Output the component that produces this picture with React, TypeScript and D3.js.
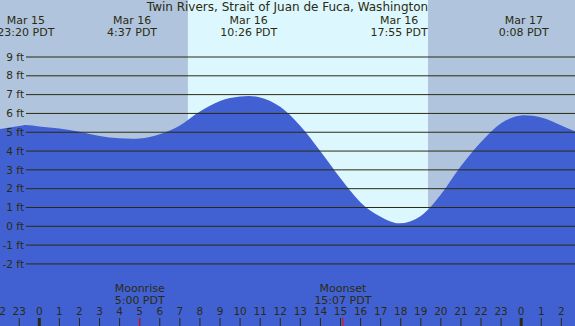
import React from 'react';
import * as d3 from 'd3';

// hours relative to Mar 16 00:00 PDT, tide level in feet
const tideHours = [-2, -1, -0.67, 0, 1, 2, 3, 4, 4.62, 5, 6, 7, 8, 9, 10, 10.43, 11, 12, 13, 14, 15, 16, 17, 17.92, 19, 20, 21, 22, 23, 24, 24.13, 25, 26, 27];
const tideLevels = [5.16, 5.33, 5.39, 5.31, 5.2, 5.02, 4.8, 4.68, 4.66, 4.67, 4.9, 5.36, 6.1, 6.66, 6.9, 6.93, 6.85, 6.35, 5.33, 3.99, 2.55, 1.27, 0.51, 0.16, 0.55, 1.69, 3.2, 4.48, 5.48, 5.89, 5.9, 5.79, 5.36, 4.9];

const eventHours = [-0.67, 4.62, 10.43, 17.92, 24.13];
const eventDates = ['Mar 15', 'Mar 16', 'Mar 16', 'Mar 16', 'Mar 17'];
const eventTimes = ['23:20 PDT', '4:37 PDT', '10:26 PDT', '17:55 PDT', '0:08 PDT'];

const sunrise = 7.4;
const sunset = 19.36;

const moonHours = [5, 15.12];
const moonNames = ['Moonrise', 'Moonset'];
const moonTimes = ['5:00 PDT', '15:07 PDT'];

const feetTicks = [9, 8, 7, 6, 5, 4, 3, 2, 1, 0, -1, -2];
const hourTicks = d3.range(-2, 27);

const title = 'Twin Rivers, Strait of Juan de Fuca, Washington';

const width = 575;
const height = 326;
const ink = '#2b2b10';

const App: React.FC = () => {
  const x = d3.scaleLinear().domain([0, 24]).range([39.3, 521.2]);
  const y = d3.scaleLinear().domain([0, 9]).range([226.3, 57]);

  const data = tideHours.map((h, i) => ({ h, v: tideLevels[i] }));
  const area = d3
    .area<{ h: number; v: number }>()
    .x((d) => x(d.h))
    .y0(height)
    .y1((d) => y(d.v))
    .curve(d3.curveMonotoneX);

  const font = { fontFamily: 'DejaVu Sans', fontSize: 11, fill: ink };

  return (
    <svg
      width={width}
      height={height}
      style={{ position: 'absolute', left: 0, top: 0, display: 'block' }}
    >
      <rect x={0} y={0} width={width} height={height} fill='#b0c4de' />
      <rect x={x(sunrise)} y={0} width={x(sunset) - x(sunrise)} height={height} fill='#ddf7ff' />
      <path d={area(data) || ''} fill='#4161d3' />

      {feetTicks.map((f) => (
        <g key={f}>
          <line x1={26} x2={width} y1={y(f)} y2={y(f)} stroke={ink} strokeWidth={1} />
          <text x={24} y={y(f)} dy='0.35em' textAnchor='end' {...font} fontSize={10.5}>
            {f} ft
          </text>
        </g>
      ))}

      <text x={287.5} y={11} textAnchor='middle' {...font} fontSize={12}>
        {title}
      </text>

      {eventHours.map((h, i) => (
        <g key={i}>
          <text x={x(h)} y={24} textAnchor='middle' {...font}>
            {eventDates[i]}
          </text>
          <text x={x(h)} y={36} textAnchor='middle' {...font}>
            {eventTimes[i]}
          </text>
        </g>
      ))}

      {hourTicks.map((h) => {
        const label = ((h % 24) + 24) % 24;
        return (
          <g key={h}>
            <line
              x1={x(h)}
              x2={x(h)}
              y1={318}
              y2={height}
              stroke={ink}
              strokeWidth={label === 0 ? 3 : 1}
            />
            <text x={x(h)} y={315} textAnchor='middle' {...font} fontSize={10.5}>
              {label}
            </text>
          </g>
        );
      })}

      {moonHours.map((h, i) => (
        <g key={i}>
          <line x1={x(h)} x2={x(h)} y1={318} y2={height} stroke='#ff0000' strokeWidth={1} />
          <text x={x(h)} y={292} textAnchor='middle' {...font}>
            {moonNames[i]}
          </text>
          <text x={x(h)} y={303.5} textAnchor='middle' {...font}>
            {moonTimes[i]}
          </text>
        </g>
      ))}
    </svg>
  );
};

export default App;
